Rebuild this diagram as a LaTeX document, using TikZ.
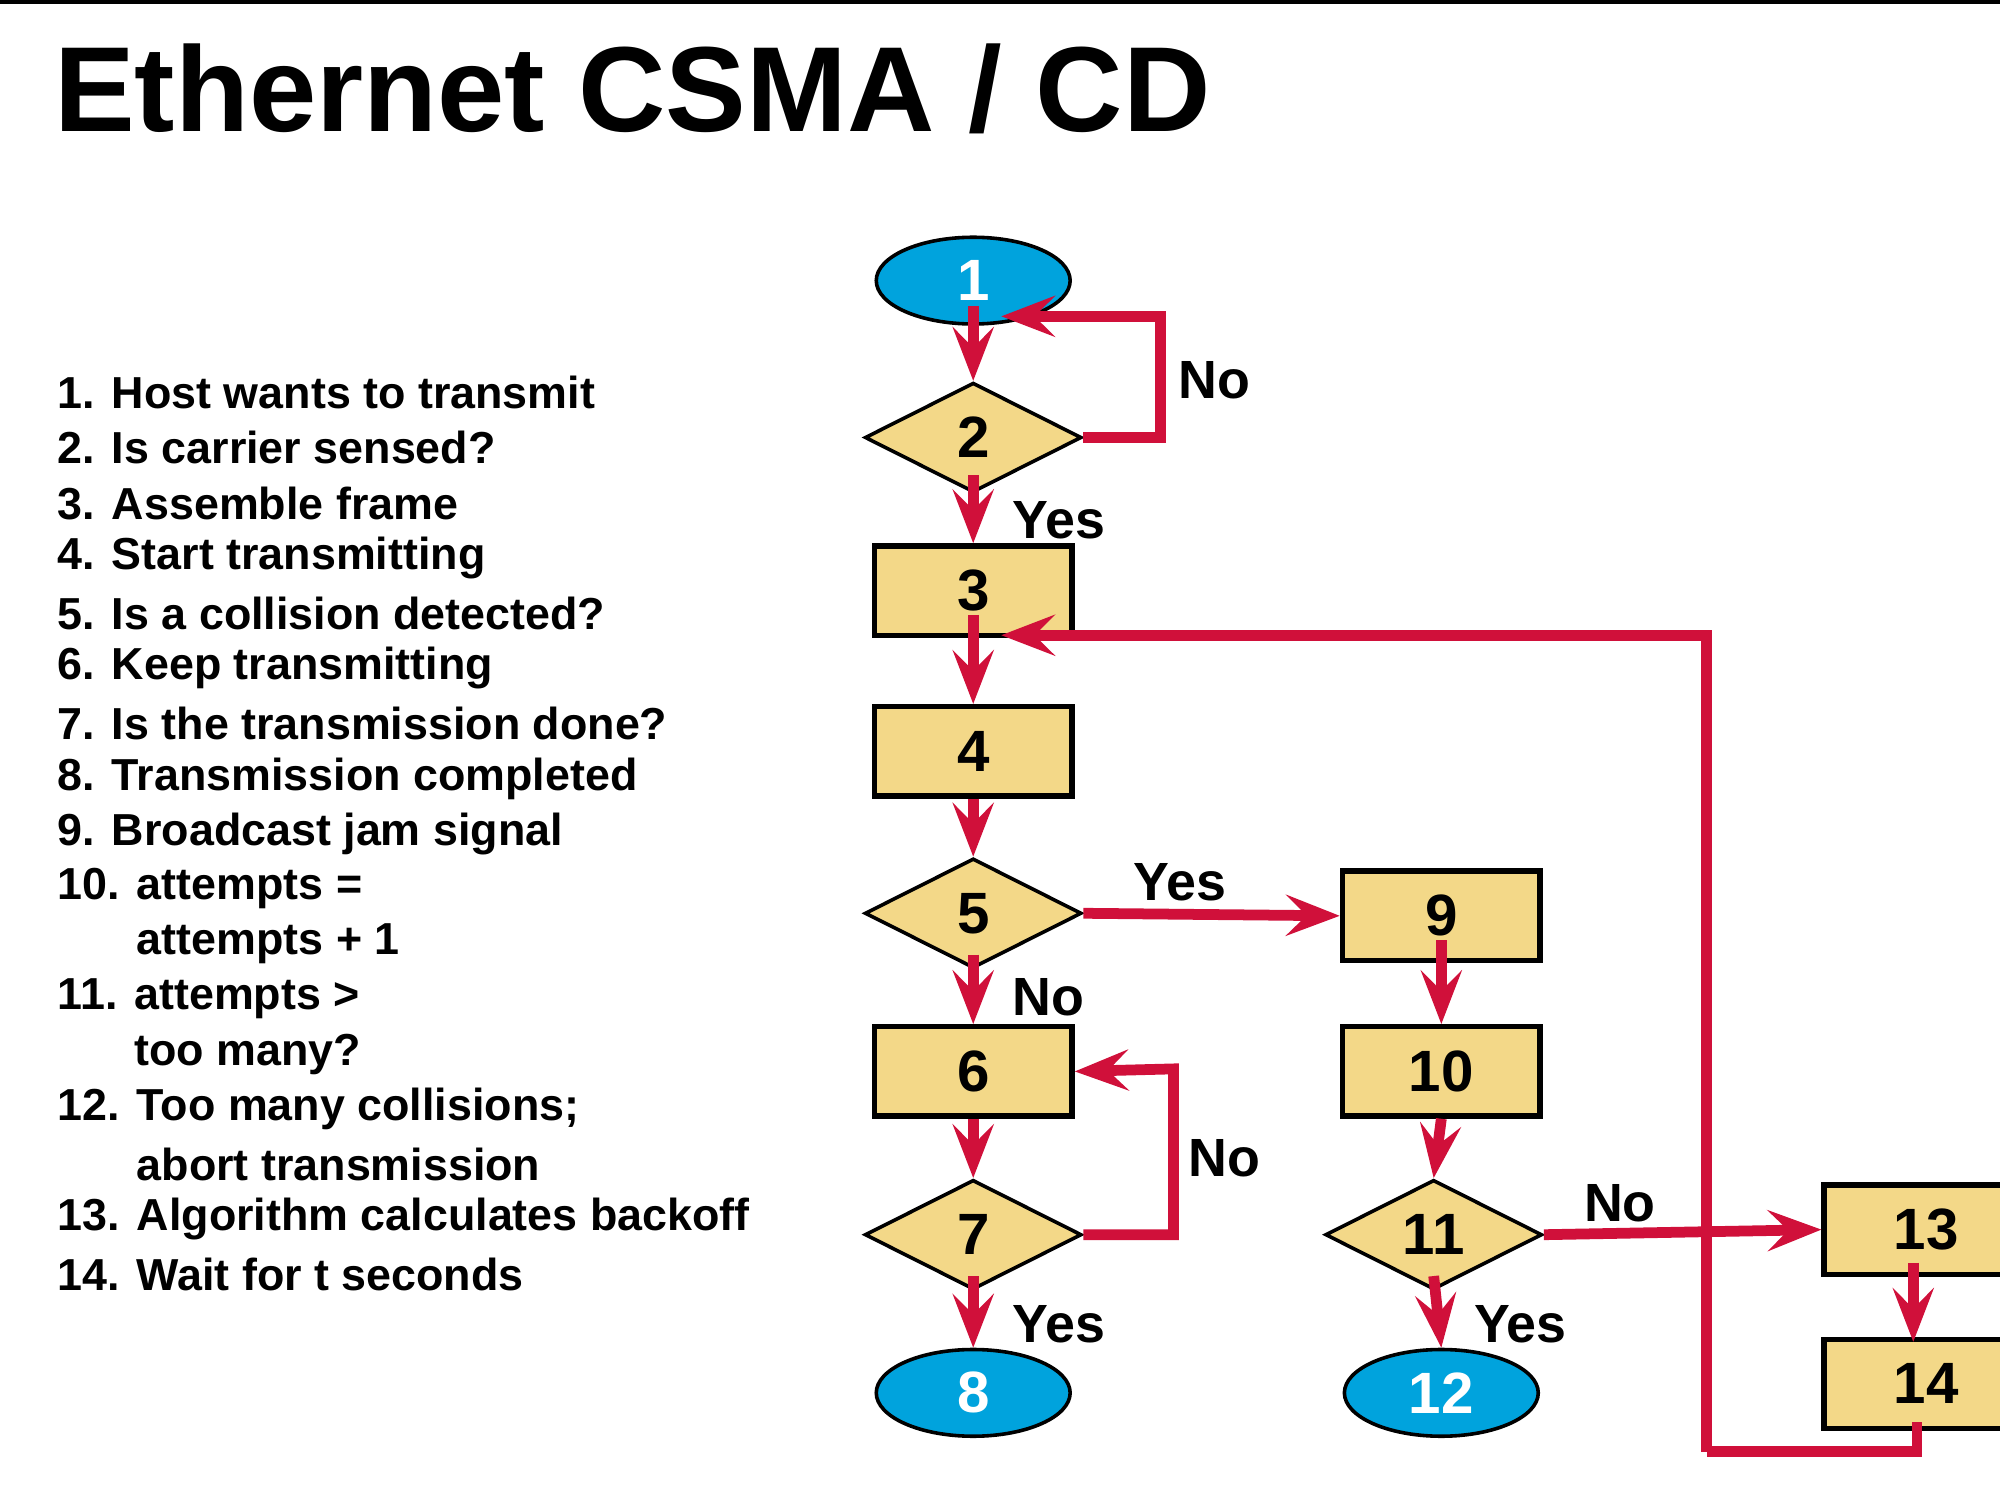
\documentclass[tikz,border=0pt]{standalone}
\usepackage{fontspec}
\setmainfont{Liberation Sans}
\usetikzlibrary{shapes.geometric,arrows.meta}
\definecolor{ared}{HTML}{D0103A}
\definecolor{ablue}{HTML}{00A3DD}
\definecolor{ayel}{HTML}{F3D888}
\begin{document}
\begin{tikzpicture}[x=0.1mm,y=-0.1mm,
  box/.style={draw=black,line width=1.2pt,fill=ayel,minimum width=15.5mm,minimum height=7mm,inner sep=0,font=\bfseries\fontsize{13}{13}\selectfont},
  dia/.style={draw=black,line width=0.8pt,fill=ayel,diamond,minimum width=17mm,minimum height=8.6mm,inner sep=0,font=\bfseries\fontsize{13}{13}\selectfont},
  ell/.style={draw=black,line width=0.8pt,fill=ablue,ellipse,minimum width=15.2mm,minimum height=6.8mm,inner sep=0,text=white,font=\bfseries\fontsize{13}{13}\selectfont},
  arr/.style={draw=ared,line width=2.4pt,-{Stealth[length=4.2mm,width=3.2mm,inset=1.6mm]}},
  lab/.style={font=\bfseries\fontsize{12}{12}\selectfont},
  item/.style={anchor=west,font=\bfseries\fontsize{10}{10}\selectfont}]
\useasboundingbox (0,0) rectangle (1568,1176);
\fill[black] (0,0) rectangle (1568,3);
\node[anchor=west,font=\bfseries\fontsize{27}{27}\selectfont] (title) at (30,70) {Ethernet CSMA / CD};
% list
\foreach \t [count=\i] in {1. Host wants to transmit,2. Is carrier sensed?,3. Assemble frame,4. Start transmitting,5. Is a collision detected?,6. Keep transmitting,7. Is the transmission done?,8. Transmission completed,9. Broadcast jam signal,10. attempts =,\phantom{10. }attempts + 1,11. attempts >,\phantom{11. }too many?,12. Too many collisions;,\phantom{12. }abort transmission,13. Algorithm calculates backoff,14. Wait for t seconds}
  \node[item] (it\i) at (33,{308+43.2*(\i-1)}) {\t};
% nodes
\node[ell] (n1) at (763,220) {1};
\node[dia] (n2) at (763,343) {2};
\node[box] (n3) at (763,463) {3};
\node[box] (n4) at (763,589) {4};
\node[dia] (n5) at (763,716) {5};
\node[box] (n6) at (763,840) {6};
\node[dia] (n7) at (763,968) {7};
\node[ell] (n8) at (763,1092) {8};
\node[box] (n9) at (1130,718) {9};
\node[box] (n10) at (1130,840) {10};
\node[dia] (n11) at (1124,968) {11};
\node[ell] (n12) at (1130,1092) {12};
\node[box,anchor=west,minimum width=16mm,text width=14.4mm,align=center] (n13) at (1428,964) {13};
\node[box,anchor=west,minimum width=16mm,text width=14.4mm,align=center] (n14) at (1428,1085) {14};
\coordinate (c1) at (785,248);
\coordinate (c3) at (785,498);
\coordinate (c14) at (1338,1138);
% edges
\draw[arr] (n1.center) ++(0,20) -- (n2.north);
\draw[arr] (n2.east) -| (910,248) -- (c1);
\draw[arr] (n2.south) ++(0,-15) -- (n3.north);
\draw[arr] (n3.south) ++(0,-18) -- (n4.north);
\draw[arr] (n4.south) -- (n5.north);
\draw[arr] (n5.south) ++(0,-12) -- (n6.north);
\draw[arr] (n6.south) -- (n7.north);
\draw[arr] (n7.south) ++(0,-12) -- (n8.north);
\draw[arr] (n7.east) -| (920,838) -- (n6.east);
\draw[arr] (n5.east) -- (n9.west);
\draw[arr] (n9.south) ++(0,-18) -- (n10.north);
\draw[arr] (n10.south) -- (n11.north);
\draw[arr] (n11.south) ++(0,-12) -- (n12.north);
\draw[arr] (n11.east) -- (n13.west);
\draw[arr] (1500,990) -- (1500,1052);
\draw[ared,line width=2.4pt] (1503,1115) |- (c14);
\draw[arr] (c14) |- (c3);
% labels
\node[lab] (l1) at (952,298) {No};
\node[lab] (l2) at (830,408) {Yes};
\node[lab] (l3) at (925,692) {Yes};
\node[lab] (l4) at (822,782) {No};
\node[lab] (l5) at (960,908) {No};
\node[lab] (l6) at (830,1038) {Yes};
\node[lab] (l7) at (1270,943) {No};
\node[lab] (l8) at (1192,1038) {Yes};
\end{tikzpicture}
\end{document}
